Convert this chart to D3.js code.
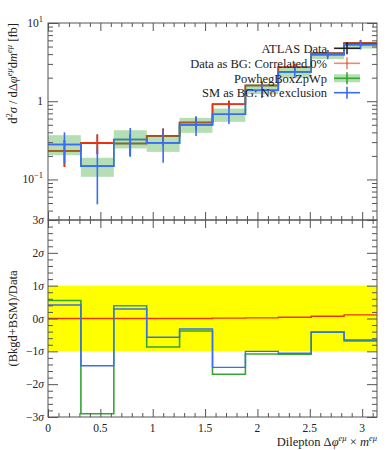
<!DOCTYPE html>
<html><head><meta charset="utf-8">
<script src="https://cdn.jsdelivr.net/npm/d3@7/dist/d3.min.js"></script>
<style>
body{margin:0;background:#fff;}
svg{display:block;}
svg text{font-family:"Liberation Serif","DejaVu Serif",serif;}
</style></head>
<body><svg id="c" width="389" height="450" font-family="Liberation Serif, DejaVu Serif, serif"></svg>
<script>
// ---------------- DATA ----------------
const binEdges = [0, 0.3142, 0.6283, 0.9425, 1.2566, 1.5708, 1.8850, 2.1991, 2.5133, 2.8274, 3.1416];
const atlasData  = [0.232, 0.293, 0.288, 0.360, 0.535, 0.916, 1.586, 2.72, 4.10, 5.50];
const atlasErr   = [0.087, 0.083, 0.088, 0.088, 0.10, 0.10, 0.20, 0.30, 0.40, 0.50];
const dataAsBG   = [0.232, 0.293, 0.288, 0.360, 0.535, 0.916, 1.586, 2.72, 4.10, 5.59];
const dataAsBGErr= [0.087, 0.083, 0.088, 0.088, 0.10, 0.10, 0.20, 0.30, 0.40, 0.50];
const powheg     = [0.280, 0.148, 0.324, 0.293, 0.498, 0.682, 1.38, 2.37, 3.93, 5.27];
const powhegLo   = [0.204, 0.108, 0.249, 0.225, 0.394, 0.544, 1.23, 1.97, 3.46, 4.71];
const powhegHi   = [0.368, 0.189, 0.426, 0.357, 0.612, 0.807, 1.65, 2.74, 4.20, 5.67];
const smAsBG     = [0.280, 0.148, 0.324, 0.293, 0.498, 0.682, 1.38, 2.37, 3.93, 5.27];
const smAsBGErr  = [0.12, 0.10, 0.13, 0.13, 0.14, 0.17, 0.28, 0.40, 0.50, 0.70];
const ratioDataAsBG = [0, 0, 0, 0, 0, 0.01, 0.02, 0.04, 0.07, 0.11];
const ratioPowheg   = [0.55, -2.90, 0.39, -0.87, -0.38, -1.70, -1.08, -1.09, -0.42, -0.68];
const ratioSM       = [0.41, -1.44, 0.29, -0.57, -0.32, -1.49, -1.00, -1.06, -0.41, -0.65];
const xMajorTicks = [0, 0.5, 1, 1.5, 2, 2.5, 3];
const xTickLabels = ["0", "0.5", "1", "1.5", "2", "2.5", "3"];
const yLogMajor = [0.1, 1, 10];
const ratioTicks = [-3, -2, -1, 0, 1, 2, 3];
const ratioTickLabels = ["\u22123", "\u22122", "\u22121", "0", "1", "2", "3"];
const legendLabels = ["ATLAS Data", "Data as BG: Correlated 0%", "PowhegBoxZpWp", "SM as BG: No exclusion"];

// ---------------- LAYOUT ----------------
const FONT = "Liberation Serif, DejaVu Serif, serif";
const L = 48, R = 377, T1 = 23, B1 = 220, T2 = 220, B2 = 417;
const cRed = "#ee3311", cBlue = "#3b6cf5", cGreen = "#33a633", cBand = "#2ca02c", cBlack = "#222";
const svg = d3.select("#c");
const x = d3.scaleLinear().domain([0, Math.PI]).range([L, R]);
const y = d3.scaleLog().domain([0.0303, 10]).range([B1, T1]);
const yr = d3.scaleLinear().domain([-3, 3]).range([B2, T2]);
const minorX = d3.range(0, 3.15, 0.1).filter(v => Math.abs(v*2 - Math.round(v*2)) > 1e-6);
const minorLog = [];
[0.01, 0.1, 1].forEach(d => { for (let k = 2; k <= 9; k++) { const v = d*k; if (v > 0.0303 && v < 10) minorLog.push(v); } });
const minorR = d3.range(-3, 3.01, 0.2).map(v => +v.toFixed(1)).filter(v => Math.abs(v - Math.round(v)) > 1e-6);
const bins = d3.range(binEdges.length - 1).map(i => ({x0: binEdges[i], x1: binEdges[i+1], xc: (binEdges[i]+binEdges[i+1])/2}));

function stepPath(vals, ys) {
  let p = "";
  bins.forEach((b, i) => {
    const yy = ys(vals[i]);
    p += (i === 0 ? "M" : "L") + x(b.x0) + "," + yy + "L" + x(b.x1) + "," + yy;
  });
  return p;
}

// ---------- ratio panel background band ----------
svg.append("rect").attr("x", L).attr("width", R - L).attr("y", yr(1)).attr("height", yr(-1) - yr(1)).attr("fill", "#ffff00");

// ---------- TOP PANEL ----------
const g1 = svg.append("g");
function errBars(g, vals, errs, color, w) {
  g.selectAll(null).data(bins).enter().append("line")
    .attr("x1", b => x(b.xc)).attr("x2", b => x(b.xc))
    .attr("y1", (b, i) => y(Math.max(vals[i] - errs[i], 0.031))).attr("y2", (b, i) => y(vals[i] + errs[i]))
    .attr("stroke", color).attr("stroke-width", w);
}
g1.append("path").attr("d", stepPath(atlasData, y)).attr("fill", "none").attr("stroke", cBlack).attr("stroke-width", 1.5);
errBars(g1, atlasData, atlasErr, cBlack, 1.5);
g1.append("path").attr("d", stepPath(dataAsBG, y)).attr("fill", "none").attr("stroke", cRed).attr("stroke-width", 1.6);
errBars(g1, dataAsBG, dataAsBGErr, cRed, 1.6);
g1.selectAll(null).data(bins).enter().append("rect")
  .attr("x", b => x(b.x0)).attr("width", b => x(b.x1) - x(b.x0))
  .attr("y", (b, i) => y(powhegHi[i])).attr("height", (b, i) => y(powhegLo[i]) - y(powhegHi[i]))
  .attr("fill", cBand).attr("fill-opacity", 0.35);
g1.append("path").attr("d", stepPath(powheg, y)).attr("fill", "none").attr("stroke", cGreen).attr("stroke-width", 1.6);
g1.append("path").attr("d", stepPath(smAsBG, y)).attr("fill", "none").attr("stroke", cBlue).attr("stroke-width", 1.6);
errBars(g1, smAsBG, smAsBGErr, cBlue, 1.6);

// ---------- RATIO PANEL ----------
const g2 = svg.append("g");
g2.append("path").attr("d", stepPath(ratioDataAsBG, yr)).attr("fill", "none").attr("stroke", cRed).attr("stroke-width", 1.4);
g2.append("path").attr("d", stepPath(ratioPowheg, yr)).attr("fill", "none").attr("stroke", cGreen).attr("stroke-width", 1.6);
g2.append("path").attr("d", stepPath(ratioSM, yr)).attr("fill", "none").attr("stroke", cBlue).attr("stroke-width", 1.4);

// ---------- AXES / FRAMES ----------
const axC = "#555";
function styleAxis(sel) { sel.select(".domain").remove(); sel.selectAll("line").attr("stroke", axC).attr("stroke-width", 1); }
function xTicks(yPos, top) {
  const mk = top ? d3.axisTop : d3.axisBottom;
  svg.append("g").attr("transform", `translate(0,${yPos})`).call(mk(x).tickValues(xMajorTicks).tickSize(-8).tickFormat("")).call(styleAxis);
  svg.append("g").attr("transform", `translate(0,${yPos})`).call(mk(x).tickValues(minorX).tickSize(-4).tickFormat("")).call(styleAxis);
}
xTicks(T1, true); xTicks(B1, false); xTicks(T2, true); xTicks(B2, false);
[[L, d3.axisLeft], [R, d3.axisRight]].forEach(([xp, mk]) => {
  svg.append("g").attr("transform", `translate(${xp},0)`).call(mk(y).tickValues(yLogMajor).tickSize(-10).tickFormat("")).call(styleAxis);
  svg.append("g").attr("transform", `translate(${xp},0)`).call(mk(y).tickValues(minorLog).tickSize(-5).tickFormat("")).call(styleAxis);
  svg.append("g").attr("transform", `translate(${xp},0)`).call(mk(yr).tickValues(ratioTicks).tickSize(-10).tickFormat("")).call(styleAxis);
  svg.append("g").attr("transform", `translate(${xp},0)`).call(mk(yr).tickValues(minorR).tickSize(-5).tickFormat("")).call(styleAxis);
});
[[T1, B1], [T2, B2]].forEach(([t, b]) => svg.append("rect").attr("x", L).attr("y", t).attr("width", R - L).attr("height", b - t).attr("fill", "none").attr("stroke", axC).attr("stroke-width", 1));

// tick labels
const fs = 11.5;
svg.append("g").selectAll("text").data(xMajorTicks).enter().append("text")
  .attr("font-family", FONT)
  .attr("x", d => x(d)).attr("y", B2 + 15).attr("text-anchor", "middle").attr("font-size", fs).attr("fill", "#222")
  .text((d, i) => xTickLabels[i]);
const logLab = svg.append("g").selectAll("text").data(yLogMajor).enter().append("text")
  .attr("font-family", FONT)
  .attr("x", L - 5).attr("y", d => y(d) + 4).attr("text-anchor", "end").attr("font-size", fs).attr("fill", "#222");
logLab.each(function(d) {
  const t = d3.select(this), e = Math.round(Math.log10(d));
  if (e === 0) { t.text("1"); return; }
  t.append("tspan").text("10");
  t.append("tspan").attr("dy", -5).attr("font-size", 8.5).text(e < 0 ? "\u22121" : String(e));
});
svg.append("g").selectAll("text").data(ratioTicks).enter().append("text")
  .attr("font-family", FONT)
  .attr("x", L - 4).attr("y", d => yr(d) + 4).attr("text-anchor", "end").attr("font-size", fs).attr("fill", "#222")
  .each(function(d, i) {
    const t = d3.select(this);
    t.append("tspan").text(ratioTickLabels[i]);
    t.append("tspan").attr("font-style", "italic").text("\u03c3");
  });

// axis titles
const yt = svg.append("text").attr("font-family", FONT).attr("transform", `translate(17,${T1}) rotate(-90)`).attr("text-anchor", "end").attr("font-size", 12.5).attr("fill", "#222");
yt.append("tspan").text("d");
yt.append("tspan").attr("dy", -5).attr("font-size", 8.5).text("2");
yt.append("tspan").attr("dy", 5).attr("font-style", "italic").text("\u03c3");
yt.append("tspan").text(" / dΔ");
yt.append("tspan").attr("font-style", "italic").text("\u03c6");
yt.append("tspan").attr("dy", -5).attr("font-size", 8.5).attr("font-style", "italic").text("e\u03bc");
yt.append("tspan").attr("dy", 5).text("d");
yt.append("tspan").attr("font-style", "italic").text("m");
yt.append("tspan").attr("dy", -5).attr("font-size", 8.5).attr("font-style", "italic").text("e\u03bc");
yt.append("tspan").attr("dy", 5).text(" [fb]");

svg.append("text").attr("font-family", FONT).attr("transform", `translate(17,${yr(0)}) rotate(-90)`).attr("text-anchor", "middle").attr("font-size", 12.5).attr("fill", "#222").text("(Bkgd+BSM)/Data");

const xt = svg.append("text").attr("font-family", FONT).attr("x", R).attr("y", 446).attr("text-anchor", "end").attr("font-size", 12.5).attr("fill", "#222");
xt.append("tspan").text("Dilepton Δ");
xt.append("tspan").attr("font-style", "italic").text("\u03c6");
xt.append("tspan").attr("dy", -5).attr("font-size", 8.5).attr("font-style", "italic").text("e\u03bc");
xt.append("tspan").attr("dy", 5).text(" × ");
xt.append("tspan").attr("font-style", "italic").text("m");
xt.append("tspan").attr("dy", -5).attr("font-size", 8.5).attr("font-style", "italic").text("e\u03bc");

// legend
const legY = [48.3, 63.3, 78.3, 92.7];
const legCol = [cBlack, cRed, cGreen, cBlue];
const lg = svg.append("g");
legendLabels.forEach((lab, i) => {
  const yy = legY[i];
  lg.append("text").attr("font-family", FONT).attr("x", 327).attr("y", yy + 4.5).attr("text-anchor", "end").attr("font-size", 12.5).attr("fill", "#222").text(lab);
  if (i === 2) lg.append("rect").attr("x", 334).attr("width", 26).attr("y", yy - 4).attr("height", 8).attr("fill", cBand).attr("fill-opacity", 0.35);
  const op = i === 1 ? 0.6 : 1;
  lg.append("line").attr("x1", 334).attr("x2", 360).attr("y1", yy).attr("y2", yy).attr("stroke", legCol[i]).attr("stroke-width", 1.6).attr("stroke-opacity", op);
  lg.append("line").attr("x1", 347).attr("x2", 347).attr("y1", yy - 6).attr("y2", yy + 6).attr("stroke", legCol[i]).attr("stroke-width", 1.6).attr("stroke-opacity", op);
});
</script></body></html>
